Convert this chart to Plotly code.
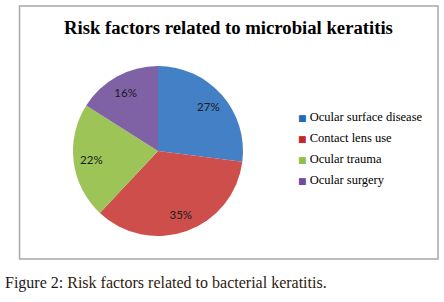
import plotly.graph_objects as go

categories = ["Ocular surface disease", "Contact lens use", "Ocular trauma", "Ocular surgery"]
values = [27, 35, 22, 16]
colors = ["#4480C6", "#CE4E4B", "#9DC457", "#7F62A6"]
legend_colors = ["#1F6BB8", "#C0282E", "#8DC04A", "#6E4BA0"]

W, H = 444, 302
fig = go.Figure()

pie_domain = dict(x=[73 / W, 243 / W], y=[(H - 236) / H, (H - 66) / H])

# coloured pie (no text)
fig.add_trace(go.Pie(
    labels=categories, values=values, sort=False, direction="clockwise", rotation=0,
    marker=dict(colors=colors, line=dict(width=0)),
    textinfo="none", domain=pie_domain, showlegend=False, hoverinfo="label+percent",
))
# transparent ring carrying the percentage labels further out
fig.add_trace(go.Pie(
    labels=categories, values=values, sort=False, direction="clockwise", rotation=0,
    hole=0.58,
    marker=dict(colors=["rgba(0,0,0,0)"] * len(values), line=dict(width=0)),
    textinfo="percent", textposition="inside", insidetextorientation="horizontal",
    textfont=dict(family="Lato", size=11.5, color="#1a1a1a"),
    domain=pie_domain, showlegend=False, hoverinfo="skip",
))

fig.add_shape(type="rect", xref="paper", yref="paper",
              x0=19.5 / W, x1=438 / W, y0=1 - 259 / H, y1=1 - 6 / H,
              line=dict(color="#A8A8A8", width=1.5), layer="below")

# legend
for i, (name, c) in enumerate(zip(categories, legend_colors)):
    fig.add_annotation(
        text=f"<span style='color:{c};font-family:DejaVu Sans;font-size:9px'>■</span> {name}",
        xref="paper", yref="paper", x=296 / W, y=1 - (117 + 21 * i) / H,
        showarrow=False, xanchor="left", yanchor="middle",
        font=dict(family="Liberation Serif", size=12.5, color="#000000"))

fig.add_annotation(text="<b>Risk factors related to microbial keratitis</b>",
                   xref="paper", yref="paper", x=229 / W, y=1 - 27 / H,
                   showarrow=False, xanchor="center", yanchor="middle",
                   font=dict(family="Liberation Serif", size=18.7, color="#000000"))

fig.add_annotation(text="<span style='color:#1A1A1A'>Figure 2:</span> Risk factors related to bacterial keratitis.",
                   xref="paper", yref="paper", x=3 / W, y=1 - 283 / H,
                   showarrow=False, xanchor="left", yanchor="middle",
                   font=dict(family="Liberation Serif", size=16, color="#2E1A10"))

fig.update_layout(
    width=W, height=H, margin=dict(l=0, r=0, t=0, b=0),
    paper_bgcolor="white", plot_bgcolor="white",
    showlegend=False,
)

fig.write_html("out.html", config={"displayModeBar": False},
               post_script="document.body.style.margin='0';document.body.style.overflow='hidden';")
